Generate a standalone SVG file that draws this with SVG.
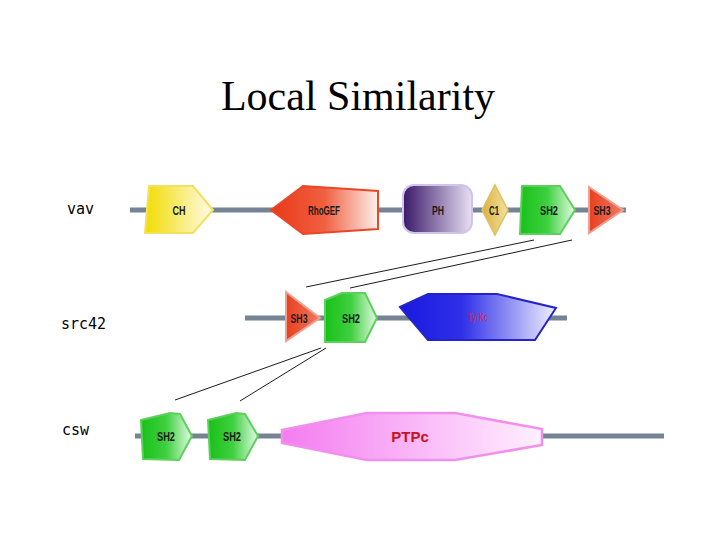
<svg xmlns="http://www.w3.org/2000/svg" width="720" height="540" viewBox="0 0 720 540">
<defs>
<linearGradient id="gY" x1="0" x2="1" y1="0" y2="0"><stop offset="0" stop-color="#f2dc00"/><stop offset="1" stop-color="#fffbe8"/></linearGradient>
<linearGradient id="gR" x1="0" x2="1" y1="0" y2="0"><stop offset="0" stop-color="#e83818"/><stop offset="0.5" stop-color="#f06040"/><stop offset="1" stop-color="#fff0ec"/></linearGradient>
<linearGradient id="gS3" x1="0" x2="1" y1="0" y2="0"><stop offset="0" stop-color="#e84020"/><stop offset="1" stop-color="#f07860"/></linearGradient>
<linearGradient id="gP" x1="0" x2="1" y1="0" y2="0"><stop offset="0" stop-color="#3a1868"/><stop offset="1" stop-color="#e8e0f4"/></linearGradient>
<linearGradient id="gC" x1="0" x2="1" y1="0" y2="0"><stop offset="0" stop-color="#dcb040"/><stop offset="1" stop-color="#f4e0a0"/></linearGradient>
<linearGradient id="gG" x1="0" x2="1" y1="0" y2="0"><stop offset="0" stop-color="#18c018"/><stop offset="0.5" stop-color="#40d040"/><stop offset="1" stop-color="#e4fae4"/></linearGradient>
<linearGradient id="gB" x1="0" x2="1" y1="0" y2="0"><stop offset="0" stop-color="#1818e0"/><stop offset="0.4" stop-color="#3030e8"/><stop offset="1" stop-color="#f0f0ff"/></linearGradient>
<linearGradient id="gK" x1="0" x2="1" y1="0" y2="0"><stop offset="0" stop-color="#f47cf0"/><stop offset="1" stop-color="#fff0ff"/></linearGradient>
</defs>
<style>
.bb{stroke:#748494;stroke-width:5;fill:none}
.lbl{font-family:"Liberation Sans",sans-serif;font-weight:bold;font-size:13px;fill:#1a1a1a;text-anchor:middle}
.nm{font-family:"DejaVu Sans Mono","DejaVu Sans",monospace;font-size:15px;fill:#000}
.cn{stroke:#000;stroke-width:0.9;fill:none}
.sh2{fill:url(#gG);stroke:#5cd05c;stroke-width:2}
.sh3{fill:url(#gS3);stroke:#f0a090;stroke-width:2}
</style>
<rect width="720" height="540" fill="#fff"/>
<text x="358" y="110" font-family="Liberation Serif,serif" font-size="42" text-anchor="middle" fill="#000">Local Similarity</text>

<g id="labels">
<text class="nm" x="67" y="214">vav</text>
<text class="nm" x="61" y="329" font-size="17">src42</text>
<text class="nm" x="62" y="435">csw</text>
</g>

<g id="backbones">
<line class="bb" x1="130" y1="210" x2="626" y2="210"/>
<line class="bb" x1="245" y1="318" x2="567" y2="318"/>
<line class="bb" x1="135" y1="436" x2="664" y2="436"/>
</g>

<g id="connectors">
<line class="cn" x1="534" y1="240" x2="306" y2="287"/>
<line class="cn" x1="572" y1="240" x2="350" y2="288"/>
<line class="cn" x1="321" y1="348" x2="175" y2="400"/>
<line class="cn" x1="326" y1="348" x2="240" y2="401"/>
</g>

<g id="vav-CH"><polygon points="149,186 193,186 213,210 193,233 145,233" fill="url(#gY)" stroke="#f4e060" stroke-width="2"/><text class="lbl" x="179" y="215" textLength="13" lengthAdjust="spacingAndGlyphs">CH</text></g>
<g id="vav-RhoGEF"><polygon points="271,210 303,186 378,191 378,229 303,234" fill="url(#gR)" stroke="#e84828" stroke-width="2"/><text class="lbl" x="324" y="215" textLength="32" lengthAdjust="spacingAndGlyphs">RhoGEF</text></g>
<g id="vav-PH"><rect x="403" y="185" width="69" height="48" rx="11" fill="url(#gP)" stroke="#d0c4ec" stroke-width="2"/><text class="lbl" x="438" y="215" textLength="12" lengthAdjust="spacingAndGlyphs">PH</text></g>
<g id="vav-C1"><polygon points="495,185 508,210 495,235 482,210" fill="url(#gC)" stroke="#e0c060" stroke-width="1.5"/><text class="lbl" x="494" y="215" textLength="10" lengthAdjust="spacingAndGlyphs">C1</text></g>
<g id="vav-SH2"><polygon points="522,186 560,186 575,210 560,234 520,234" class="sh2"/><text class="lbl" x="549" y="215" textLength="18" lengthAdjust="spacingAndGlyphs">SH2</text></g>
<g id="vav-SH3"><polygon points="589,187 623,210 589,233" class="sh3"/><text class="lbl" x="602" y="215" textLength="17" lengthAdjust="spacingAndGlyphs">SH3</text></g>

<g id="src42-SH3"><polygon points="286,292 320,318 286,341" class="sh3"/><text class="lbl" x="299" y="323" textLength="17" lengthAdjust="spacingAndGlyphs">SH3</text></g>
<g id="src42-SH2"><polygon points="325,300 342,293 365,293 377,318 365,342 325,342" class="sh2"/><text class="lbl" x="351" y="323" textLength="18" lengthAdjust="spacingAndGlyphs">SH2</text></g>
<g id="src42-TyrKc"><polygon points="400,307 428,294 497,294 556,308 535,340 428,340" fill="url(#gB)" stroke="#2424c8" stroke-width="2"/><text x="478" y="321" font-family="Liberation Sans,sans-serif" font-size="10" fill="#e02050" text-anchor="middle" textLength="20" lengthAdjust="spacingAndGlyphs">TyrKc</text></g>

<g id="csw-SH2a"><polygon points="141,420 170,413 180,414 192,436 179,460 143,459" class="sh2"/><text class="lbl" x="166" y="441" textLength="18" lengthAdjust="spacingAndGlyphs">SH2</text></g>
<g id="csw-SH2b"><polygon points="208,420 236,413 245,414 258,436 245,460 210,459" class="sh2"/><text class="lbl" x="232" y="441" textLength="18" lengthAdjust="spacingAndGlyphs">SH2</text></g>
<g id="csw-PTPc"><polygon points="282,430 367,413 455,413 542,429 542,445 455,460 367,460 282,443" fill="url(#gK)" stroke="#f090ec" stroke-width="2.5"/><text x="410" y="442" font-family="Liberation Sans,sans-serif" font-weight="bold" font-size="15" fill="#c81020" text-anchor="middle">PTPc</text></g>
</svg>
